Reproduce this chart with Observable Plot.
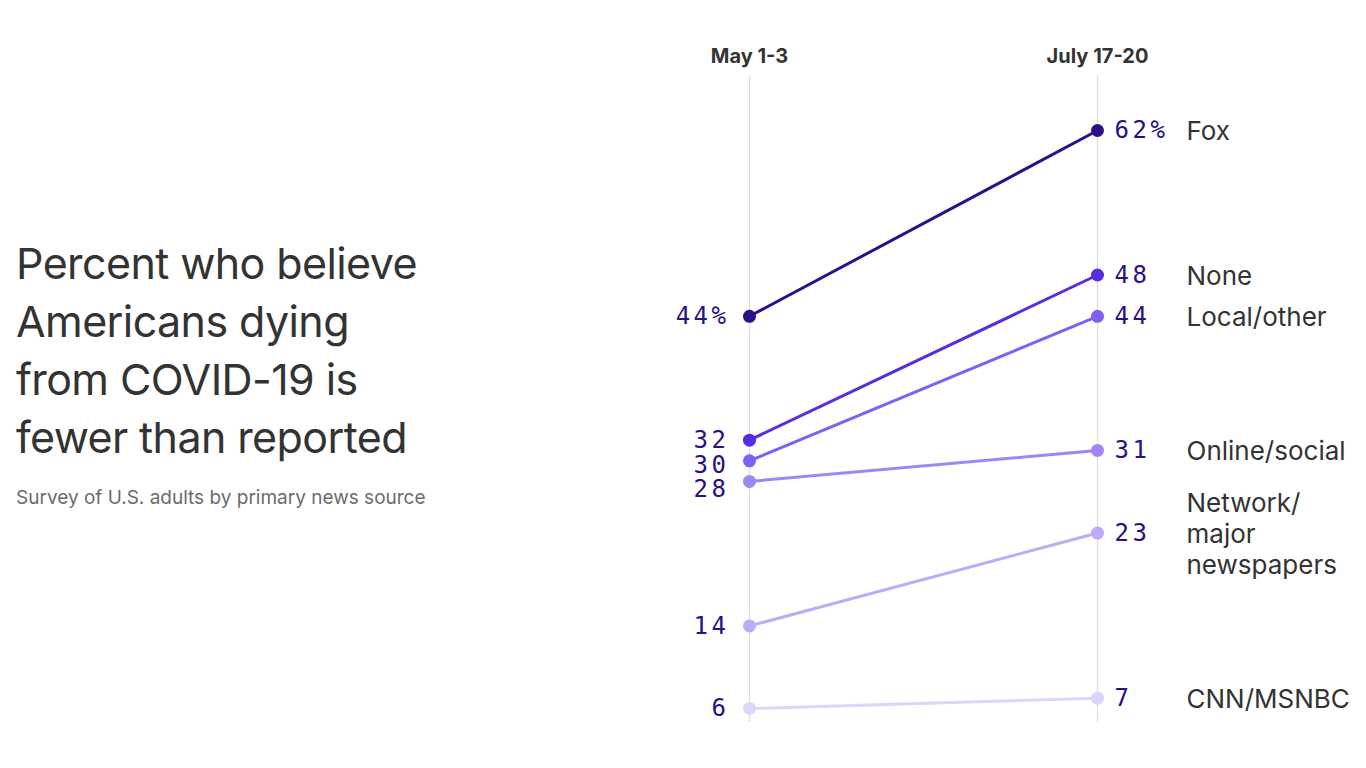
<!DOCTYPE html>
<html>
<head>
<meta charset="utf-8">
<script src="https://cdn.jsdelivr.net/npm/d3@7"></script>
<script src="https://cdn.jsdelivr.net/npm/@observablehq/plot@0.6"></script>
<style>
  html, body { margin: 0; padding: 0; background: #fff; }
  body { width: 1366px; height: 768px; overflow: hidden; display: flex; font-family: Inter, "Noto Sans", sans-serif; }
  #left { width: 640px; flex: none; position: relative; }
  #title { position: absolute; left: 16px; top: 234px; font-size: 43px; line-height: 58px; color: #333; letter-spacing: -0.6px; margin: 0; font-weight: 400; white-space: nowrap; }
  #subtitle { position: absolute; left: 16px; top: 486px; font-size: 19px; color: #6b6b6b; margin: 0; white-space: nowrap; }
  #chart { width: 726px; flex: none; }
  #chart svg { max-width: none; }
</style>
</head>
<body>
<div id="left">
  <h1 id="title">Percent who believe<br>Americans dying<br>from COVID-19 is<br>fewer than reported</h1>
  <p id="subtitle">Survey of U.S. adults by primary news source</p>
</div>
<div id="chart"></div>
<script>
const periods = ["May 1-3", "July 17-20"];
const sources = ["Fox", "None", "Local/other", "Online/social", "Network/\nmajor\nnewspapers", "CNN/MSNBC"];
const mayValues = [44, 32, 30, 28, 14, 6];
const julyValues = [62, 48, 44, 31, 23, 7];
const colors = ["#2c0f8a", "#5a2ce0", "#7f5ff5", "#9e86f7", "#bdaaf9", "#ddd4fd"];

// simple label dodge (in data units) so stacked value labels do not collide
const labelGap = 2.4;
function dodge(values) {
  const order = values.map((v, i) => i).sort((a, b) => values[b] - values[a]);
  const out = values.slice();
  let prev = Infinity;
  for (const i of order) { out[i] = Math.min(values[i], prev - labelGap); prev = out[i]; }
  return out;
}
const mayLabelY = dodge(mayValues);
const julyLabelY = dodge(julyValues);

const rows = [];
sources.forEach((s, i) => {
  rows.push({source: s, period: periods[0], value: mayValues[i], labelY: mayLabelY[i], label: i === 0 ? mayValues[i] + "%" : String(mayValues[i])});
  rows.push({source: s, period: periods[1], value: julyValues[i], labelY: julyLabelY[i], label: i === 0 ? julyValues[i] + "%" : String(julyValues[i])});
});
const may = rows.filter(d => d.period === periods[0]);
const july = rows.filter(d => d.period === periods[1]);

const mono = "'DejaVu Sans Mono', monospace";

const chart = Plot.plot({
  width: 726,
  height: 768,
  marginTop: 75,
  marginBottom: 46,
  marginLeft: 0,
  marginRight: 0,
  x: {type: "point", domain: periods, range: [109, 457], padding: 0, axis: null, label: null},
  y: {domain: [6, 62], range: [708, 130], axis: null},
  color: {domain: sources, range: colors},
  marks: [
    Plot.gridX(periods, {stroke: "#dcdcdc", strokeOpacity: 1, strokeWidth: 1.2}),
    Plot.axisX({anchor: "top", label: null, tickSize: 0, tickPadding: 13, fontSize: 20, fontWeight: 700, color: "#333", fontFamily: "Inter, sans-serif"}),
    Plot.line(rows, {x: "period", y: "value", z: "source", stroke: "source", strokeWidth: 3}),
    Plot.dot(rows, {x: "period", y: "value", fill: "source", r: 6.5}),
    Plot.text(may, {x: "period", y: "labelY", text: "label", textAnchor: "end", dx: -20, fill: "#2a0e8a", fontSize: 24, fontFamily: mono}),
    Plot.text(july, {x: "period", y: "labelY", text: "label", textAnchor: "start", dx: 17, fill: "#2a0e8a", fontSize: 24, fontFamily: mono}),
    Plot.text(july, {x: "period", y: "value", text: "source", textAnchor: "start", dx: 89, fill: "#333", fontSize: 26, lineHeight: 1.2, fontFamily: "Inter, sans-serif"})
  ]
});
d3.select(chart).selectAll("g")
  .filter(function () { const f = this.getAttribute("font-family"); return f && f.includes("Mono"); })
  .attr("letter-spacing", 3.5);
document.getElementById("chart").appendChild(chart);
</script>
</body>
</html>
